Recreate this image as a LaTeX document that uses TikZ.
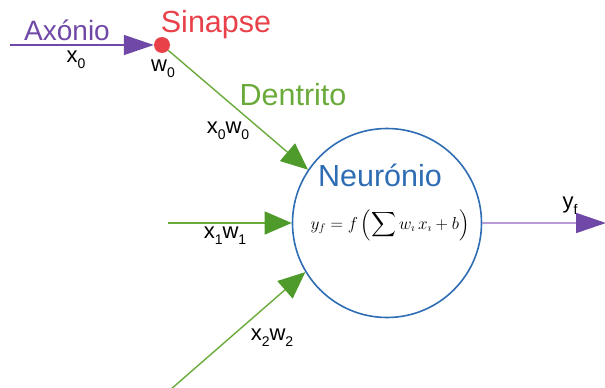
\documentclass[tikz,border=0pt]{standalone}
\usepackage{amsmath}
\usepackage{exscale}
\usepackage{fontspec}
\setmainfont{Liberation Sans}
\usetikzlibrary{arrows.meta}
\definecolor{axpurple}{HTML}{7048A8}
\definecolor{outline}{HTML}{B89AD8}
\definecolor{synred}{HTML}{E8414A}
\definecolor{dgreen}{HTML}{6AAA3A}
\definecolor{tipgreen}{HTML}{4E9A2A}
\definecolor{nblue}{HTML}{2E6DB4}
\newcommand{\sbs}[1]{\raisebox{-6pt}{\fontsize{14}{14}\selectfont #1}}
\tikzset{
  lbl/.style={inner sep=0pt, font=\fontsize{22}{22}\selectfont, text=black},
  big/.style={inner sep=0pt, font=\fontsize{30.5}{30}\selectfont},
  greenarrow/.style={draw=dgreen, line width=1.4pt, -{Triangle[length=27pt,width=23pt,color=tipgreen]}},
  purplearrow/.style={line width=1.6pt, -{Triangle[length=30pt,width=20pt,color=axpurple]}},
}
\begin{document}
\begin{tikzpicture}[x=1pt,y=-1pt]
\useasboundingbox (0,0) rectangle (605,388);
% neuron
\node[circle, draw=nblue, line width=1.6pt, minimum size=189pt, inner sep=0pt] (neuron) at (387,223) {};
\node[big, text=nblue] (ntext) at (380,175) {Neurónio};
\node[inner sep=0pt, font=\fontsize{16}{16}\selectfont] (formula) at (390,225)
  {$\displaystyle y_f = f\left(\sum w_\imath\, x_\imath + b\right)$};
% synapse
\node[circle, fill=synred, minimum size=16pt, inner sep=0pt] (syn) at (162,45) {};
\coordinate (axstart) at (10,45);
\draw[purplearrow, draw=axpurple] (axstart) -- (syn.west);
\node[big, text=axpurple, font=\fontsize{28}{28}\selectfont] (axlabel) at (67,30) {Axónio};
\node[big, text=synred] (synlabel) at (216,25) {Sinapse};
\node[lbl] (x0) at (76,60) {x\sbs{0}};
\node[lbl] (w0) at (163,69) {w\sbs{0}};
% dendrites
\draw[greenarrow] (syn) -- (neuron.146);
\node[big, text=dgreen] (dlabel) at (293,95) {Dentrito};
\node[lbl] (x0w0) at (228,131) {x\sbs{0}w\sbs{0}};
\coordinate (in1) at (168,223);
\draw[greenarrow] (in1) -- (neuron.west);
\node[lbl] (x1w1) at (225,236) {x\sbs{1}w\sbs{1}};
\coordinate (in2) at (170,390);
\draw[greenarrow] (in2) -- (neuron.211);
\node[lbl] (x2w2) at (272,338) {x\sbs{2}w\sbs{2}};
% output
\coordinate (out) at (606,223);
\draw[purplearrow, draw=outline] (neuron.east) -- (out);
\node[lbl] (yf) at (570,206) {y\sbs{f}};
\end{tikzpicture}
\end{document}
